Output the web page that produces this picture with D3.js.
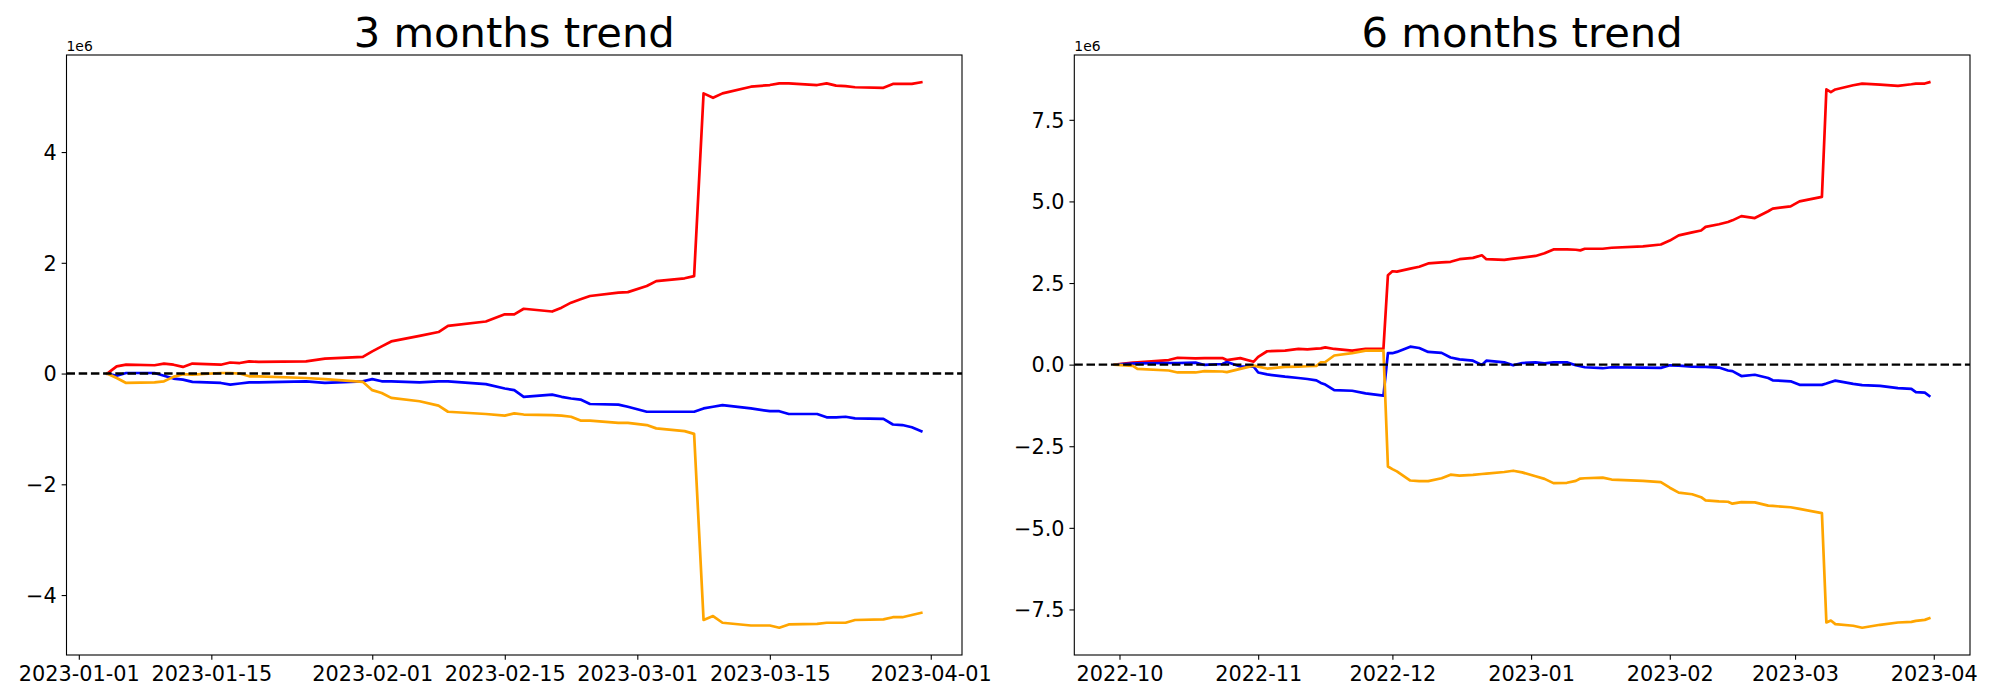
<!DOCTYPE html>
<html><head><meta charset="utf-8">
<script src="https://cdn.jsdelivr.net/npm/d3@7"></script>
<style>body{margin:0;background:#fff}svg{display:block}</style>
</head><body><svg id="c" width="2000" height="700"></svg>
<script>
// ---- 3 months panel (values in units of 1e6) ----
const dates3 = ["2023-01-04","2023-01-05","2023-01-06","2023-01-09","2023-01-10","2023-01-11","2023-01-12","2023-01-13","2023-01-16","2023-01-17","2023-01-18","2023-01-19","2023-01-20","2023-01-25","2023-01-27","2023-01-31","2023-02-01","2023-02-02","2023-02-03","2023-02-06","2023-02-08","2023-02-09","2023-02-13","2023-02-15","2023-02-16","2023-02-17","2023-02-20","2023-02-21","2023-02-22","2023-02-23","2023-02-24","2023-02-27","2023-02-28","2023-03-02","2023-03-03","2023-03-06","2023-03-07","2023-03-08","2023-03-09","2023-03-10","2023-03-13","2023-03-15","2023-03-16","2023-03-17","2023-03-20","2023-03-21","2023-03-22","2023-03-23","2023-03-24","2023-03-27","2023-03-28","2023-03-29","2023-03-30","2023-03-31"];
const red3 = [0,0.13,0.16,0.15,0.18,0.16,0.12,0.18,0.16,0.20,0.19,0.22,0.21,0.22,0.27,0.30,0.40,0.49,0.58,0.68,0.75,0.86,0.94,1.07,1.07,1.17,1.12,1.19,1.28,1.34,1.40,1.46,1.47,1.58,1.67,1.72,1.76,5.06,4.98,5.06,5.18,5.21,5.24,5.24,5.21,5.24,5.20,5.19,5.17,5.16,5.23,5.23,5.23,5.26];
const blue3 = [0,-0.04,0.01,0.01,-0.04,-0.09,-0.11,-0.15,-0.17,-0.20,-0.18,-0.16,-0.16,-0.14,-0.17,-0.14,-0.10,-0.14,-0.14,-0.16,-0.14,-0.14,-0.19,-0.27,-0.30,-0.42,-0.38,-0.42,-0.45,-0.47,-0.55,-0.56,-0.60,-0.69,-0.69,-0.69,-0.69,-0.63,-0.60,-0.57,-0.63,-0.68,-0.68,-0.73,-0.73,-0.79,-0.79,-0.78,-0.81,-0.82,-0.92,-0.93,-0.97,-1.04];
const orange3 = [0,-0.08,-0.17,-0.16,-0.14,-0.06,-0.01,-0.02,0.01,0.01,0,-0.05,-0.05,-0.08,-0.10,-0.15,-0.30,-0.35,-0.44,-0.50,-0.58,-0.69,-0.73,-0.76,-0.72,-0.74,-0.75,-0.76,-0.78,-0.85,-0.85,-0.89,-0.89,-0.93,-0.99,-1.04,-1.09,-4.45,-4.38,-4.50,-4.55,-4.55,-4.59,-4.53,-4.52,-4.50,-4.50,-4.50,-4.45,-4.44,-4.40,-4.40,-4.36,-4.32];
const xTicks3 = ["2023-01-01","2023-01-15","2023-02-01","2023-02-15","2023-03-01","2023-03-15","2023-04-01"];
const yTicks3 = [-4,-2,0,2,4];

// ---- 6 months panel (values in units of 1e6) ----
const dates6 = ["2022-09-30","2022-10-04","2022-10-05","2022-10-12","2022-10-14","2022-10-18","2022-10-20","2022-10-24","2022-10-25","2022-10-28","2022-10-31","2022-11-01","2022-11-03","2022-11-07","2022-11-10","2022-11-12","2022-11-14","2022-11-15","2022-11-16","2022-11-18","2022-11-22","2022-11-25","2022-11-29","2022-11-30","2022-12-01","2022-12-02","2022-12-05","2022-12-07","2022-12-09","2022-12-12","2022-12-14","2022-12-16","2022-12-19","2022-12-21","2022-12-22","2022-12-26","2022-12-28","2022-12-30","2023-01-02","2023-01-04","2023-01-06","2023-01-09","2023-01-11","2023-01-12","2023-01-13","2023-01-17","2023-01-19","2023-01-26","2023-01-30","2023-02-01","2023-02-03","2023-02-06","2023-02-08","2023-02-09","2023-02-12","2023-02-14","2023-02-15","2023-02-17","2023-02-20","2023-02-23","2023-02-24","2023-02-28","2023-03-02","2023-03-07","2023-03-08","2023-03-09","2023-03-10","2023-03-14","2023-03-16","2023-03-20","2023-03-24","2023-03-27","2023-03-28","2023-03-30","2023-03-31"];
const red6 = [0,0.06,0.07,0.14,0.21,0.19,0.20,0.20,0.14,0.20,0.09,0.24,0.41,0.43,0.48,0.47,0.49,0.50,0.53,0.48,0.43,0.48,0.49,2.74,2.86,2.85,2.94,3.00,3.10,3.13,3.15,3.23,3.27,3.35,3.23,3.21,3.25,3.28,3.33,3.41,3.53,3.53,3.52,3.50,3.55,3.55,3.58,3.62,3.68,3.80,3.96,4.05,4.11,4.22,4.30,4.37,4.42,4.55,4.49,4.70,4.78,4.85,5.00,5.14,8.43,8.35,8.43,8.56,8.61,8.58,8.54,8.59,8.61,8.61,8.65];
const blue6 = [0,0.03,0.04,0.05,0.05,0.06,-0.01,0.02,0.08,-0.06,-0.06,-0.24,-0.30,-0.37,-0.41,-0.44,-0.48,-0.56,-0.61,-0.78,-0.80,-0.88,-0.95,0.35,0.35,0.39,0.55,0.51,0.39,0.36,0.22,0.16,0.12,-0.01,0.12,0.07,-0.02,0.05,0.07,0.04,0.07,0.07,-0.02,-0.05,-0.08,-0.11,-0.08,-0.09,-0.10,-0.02,-0.03,-0.06,-0.07,-0.07,-0.09,-0.18,-0.20,-0.35,-0.31,-0.41,-0.48,-0.51,-0.62,-0.62,-0.58,-0.53,-0.49,-0.59,-0.63,-0.65,-0.72,-0.74,-0.84,-0.86,-0.96];
const orange6 = [0,-0.04,-0.13,-0.18,-0.24,-0.24,-0.20,-0.21,-0.23,-0.13,-0.03,-0.06,-0.12,-0.07,-0.06,-0.05,-0.04,0.07,0.08,0.28,0.35,0.43,0.43,-3.12,-3.20,-3.27,-3.55,-3.57,-3.57,-3.48,-3.37,-3.40,-3.38,-3.35,-3.34,-3.29,-3.25,-3.30,-3.42,-3.50,-3.63,-3.62,-3.56,-3.49,-3.48,-3.46,-3.52,-3.56,-3.60,-3.77,-3.92,-3.97,-4.06,-4.16,-4.19,-4.20,-4.26,-4.21,-4.22,-4.32,-4.33,-4.37,-4.42,-4.55,-7.90,-7.84,-7.95,-8.00,-8.06,-7.97,-7.90,-7.88,-7.85,-7.82,-7.77];
const xTicks6 = ["2022-10-01","2022-11-01","2022-12-01","2023-01-01","2023-02-01","2023-03-01","2023-04-01"];
const yTicks6 = [-7.5,-5,-2.5,0,2.5,5,7.5];

const seriesColors = ["red","blue","orange"];
const FONT = "DejaVu Sans, sans-serif";
const parse = d3.utcParse("%Y-%m-%d");
const svg = d3.select("#c");
svg.append("rect").attr("width",2000).attr("height",700).attr("fill","#fff");

function panel(o){
  const g = svg.append("g");
  const t = o.dates.map(parse);
  const t0 = +t[0], t1 = +t[t.length-1], tp = (t1-t0)*0.05;
  const x = d3.scaleUtc().domain([new Date(t0-tp), new Date(t1+tp)]).range([o.left,o.right]);
  const all = o.series.flat();
  const v0 = d3.min(all), v1 = d3.max(all), vp = (v1-v0)*0.05;
  const y = d3.scaleLinear().domain([v0-vp, v1+vp]).range([o.bottom,o.top]);
  const line = d3.line().x((d,i)=>x(t[i])).y(d=>y(d));
  o.series.forEach((s,k)=>{
    g.append("path").datum(s).attr("d",line).attr("fill","none")
      .attr("stroke",seriesColors[k]).attr("stroke-width",2.7)
      .attr("stroke-linejoin","round").attr("stroke-linecap","square");
  });
  g.append("line").attr("x1",o.left).attr("x2",o.right).attr("y1",y(0)).attr("y2",y(0))
    .attr("stroke","#000").attr("stroke-width",2.4).attr("stroke-dasharray","8.5,3.7");
  const xa = d3.axisBottom(x).tickValues(o.xTicks.map(parse)).tickFormat(d3.utcFormat(o.xFmt))
    .tickSizeInner(4.86).tickSizeOuter(0).tickPadding(4.86);
  const ya = d3.axisLeft(y).tickValues(o.yTicks).tickFormat(o.yFmt)
    .tickSizeInner(4.86).tickSizeOuter(0).tickPadding(4.86);
  const gx = g.append("g").attr("transform",`translate(0,${o.bottom})`).call(xa);
  const gy = g.append("g").attr("transform",`translate(${o.left},0)`).call(ya);
  [gx,gy].forEach(a=>{
    a.select(".domain").remove();
    a.selectAll(".tick line").attr("stroke","#000").attr("stroke-width",1.1);
    a.selectAll(".tick text").attr("fill","#000").style("font-family",FONT).style("font-size","20.8px");
  });
  gx.selectAll(".tick text").attr("dy","0.76em");
  gy.selectAll(".tick text").attr("dy","0.35em");
  g.append("rect").attr("x",o.left).attr("y",o.top).attr("width",o.right-o.left).attr("height",o.bottom-o.top)
    .attr("fill","none").attr("stroke","#000").attr("stroke-width",1.1);
  g.append("text").attr("x",(o.left+o.right)/2).attr("y",o.top-8.3).attr("text-anchor","middle")
    .style("font-family",FONT).style("font-size","41.7px").text(o.title);
  g.append("text").attr("x",o.left).attr("y",o.top-4.5)
    .style("font-family",FONT).style("font-size","13.9px").text("1e6");
}

const fmtInt = d => d3.format("d")(d).replace("-","\u2212");
const fmt1 = d => d3.format(".1f")(d).replace("-","\u2212");

panel({dates:dates3, series:[red3,blue3,orange3], xTicks:xTicks3, yTicks:yTicks3,
  xFmt:"%Y-%m-%d", yFmt:fmtInt, left:66.5, right:962, top:55, bottom:655, title:"3 months trend"});
panel({dates:dates6, series:[red6,blue6,orange6], xTicks:xTicks6, yTicks:yTicks6,
  xFmt:"%Y-%m", yFmt:fmt1, left:1074.3, right:1970, top:55, bottom:655, title:"6 months trend"});
</script></body></html>
